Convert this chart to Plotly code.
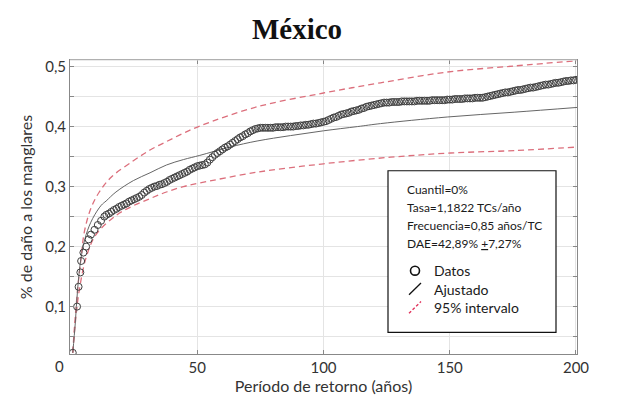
import plotly.graph_objects as go

# ---------------- data ----------------
datos_x_inicio = [0.7, 2.4, 3.0, 3.7, 4.0, 4.9, 6.0, 7.0, 7.9, 9.3, 10.6, 11.9, 13.2]
datos_y_inicio = [0.023, 0.100, 0.133, 0.157, 0.176, 0.190, 0.200, 0.212, 0.220, 0.228, 0.236, 0.243, 0.250]

# band of dense circles, read once per year of return period (14 .. 200) plus the last one
datos_x_banda = list(range(14, 201)) + [201.3]
datos_y_banda = [
    0.253, 0.255, 0.258, 0.261, 0.263, 0.266, 0.268, 0.270, 0.272, 0.275,
    0.277, 0.279, 0.281, 0.283, 0.286, 0.290, 0.293, 0.296, 0.298, 0.300,
    0.301, 0.303, 0.304, 0.306, 0.308, 0.311, 0.313, 0.315, 0.317, 0.319,
    0.321, 0.323, 0.325, 0.328, 0.330, 0.332, 0.334, 0.335, 0.336, 0.337,
    0.340, 0.345, 0.349, 0.353, 0.356, 0.359, 0.362, 0.365, 0.367, 0.370,
    0.373, 0.376, 0.379, 0.382, 0.384, 0.387, 0.389, 0.392, 0.394, 0.396,
    0.397, 0.398, 0.398, 0.398, 0.398, 0.398, 0.398, 0.399, 0.399, 0.399,
    0.399, 0.400, 0.400, 0.400, 0.400, 0.401, 0.401, 0.402, 0.402, 0.403,
    0.403, 0.404, 0.405, 0.405, 0.406, 0.407, 0.408, 0.409, 0.411, 0.413,
    0.415, 0.416, 0.418, 0.420, 0.421, 0.422, 0.423, 0.425, 0.426, 0.427,
    0.428, 0.430, 0.431, 0.433, 0.434, 0.435, 0.436, 0.437, 0.438, 0.439,
    0.440, 0.440, 0.440, 0.441, 0.441, 0.441, 0.441, 0.442, 0.442, 0.442,
    0.442, 0.442, 0.442, 0.443, 0.443, 0.443, 0.443, 0.443, 0.443, 0.444,
    0.444, 0.444, 0.444, 0.444, 0.444, 0.445, 0.445, 0.445, 0.446, 0.446,
    0.446, 0.446, 0.447, 0.447, 0.447, 0.447, 0.448, 0.448, 0.448, 0.448,
    0.449, 0.450, 0.451, 0.452, 0.453, 0.454, 0.455, 0.456, 0.457, 0.457,
    0.458, 0.459, 0.460, 0.461, 0.461, 0.462, 0.463, 0.464, 0.465, 0.465,
    0.466, 0.467, 0.468, 0.469, 0.470, 0.470, 0.471, 0.472, 0.473, 0.473,
    0.474, 0.475, 0.476, 0.476, 0.477, 0.477, 0.478,
    0.479]

ajuste_x = [0.7, 1.7, 2.6, 4.0, 6.0, 8.6, 12, 13.9, 17.8, 24.7, 31.3, 37.8, 44.5, 51,
            63, 73.7, 86.9, 100, 113.4, 122.6, 149, 175.5, 200.6]
ajuste_y = [0.023, 0.073, 0.128, 0.182, 0.220, 0.247, 0.269, 0.276, 0.291, 0.310, 0.323, 0.336,
            0.345, 0.352, 0.366, 0.376, 0.385, 0.393, 0.400, 0.405, 0.416, 0.424, 0.432]

sup_x = [0.7, 1.3, 2.6, 4.0, 5.3, 7.9, 11.2, 16, 24.7, 31.3, 37.8, 44.5, 51,
         73.7, 100, 122.6, 149.1, 175.5, 200.8]
sup_y = [0.023, 0.062, 0.128, 0.182, 0.225, 0.264, 0.291, 0.316, 0.343, 0.361, 0.375, 0.389,
         0.401, 0.433, 0.456, 0.473, 0.491, 0.501, 0.510]

inf_x = [0.7, 2.0, 3.3, 6.0, 9.9, 17.9, 24.6, 31.3, 37.8, 44.5, 51, 73.7, 100,
         126.6, 150.4, 175.5, 200.8]
inf_y = [0.023, 0.085, 0.128, 0.182, 0.220, 0.252, 0.268, 0.280, 0.291, 0.300, 0.306, 0.324,
         0.338, 0.349, 0.356, 0.360, 0.366]

x_ticks = [50, 100, 150, 200]
x_tick_text = ["50", "100", "150", "200"]
y_ticks = [0.1, 0.2, 0.3, 0.4, 0.5]
y_tick_text = ["0,1", "0,2", "0,3", "0,4", "0,5"]
origin_label = "0"

titulo = "México"
stats_lines = ["Cuantil=0%", "Tasa=1,1822 TCs/año", "Frecuencia=0,85 años/TC",
               "DAE=42,89% <u>+</u>7,27%"]
legend_labels = ["Datos", "Ajustado", "95% intervalo"]

# ---------------- figure ----------------
W, H = 629, 401
ML, MR, MT, MB = 70, 52, 60, 41
PW, PH = W - ML - MR, H - MT - MB

def px(xp):
    return (xp - ML) / PW

def py(yp):
    return (H - MB - yp) / PH

red = "#dc6f7c"
fig = go.Figure()
fig.add_trace(go.Scatter(x=sup_x, y=sup_y, mode="lines", line=dict(color=red, width=1.3, dash="6px,4px"),
                         line_shape="spline", hoverinfo="skip"))
fig.add_trace(go.Scatter(x=inf_x, y=inf_y, mode="lines", line=dict(color=red, width=1.3, dash="6px,4px"),
                         line_shape="spline", hoverinfo="skip"))
fig.add_trace(go.Scatter(x=ajuste_x, y=ajuste_y, mode="lines", line=dict(color="#666666", width=1),
                         line_shape="spline"))
fig.add_trace(go.Scatter(x=datos_x_inicio + datos_x_banda, y=datos_y_inicio + datos_y_banda, mode="markers",
                         marker=dict(symbol="circle-open", size=7, color="#404040", line=dict(width=1))))

font_main = "Lato, 'Open Sans', sans-serif"
grid_c = "#e4e4e4"

fig.update_layout(
    width=W, height=H,
    margin=dict(l=ML, r=MR, t=MT, b=MB),
    paper_bgcolor="white", plot_bgcolor="white",
    showlegend=False,
    font=dict(family=font_main, color="#333333", size=15),
    title=dict(text="<b>" + titulo + "</b>", x=297 / W, xref="container", xanchor="center",
               y=1 - 29 / H, yref="container", yanchor="middle",
               font=dict(family="'Liberation Serif', 'DejaVu Serif', serif", size=29, color="#111111")),
    xaxis=dict(range=[-0.4, 200.4], tickvals=x_ticks, ticktext=x_tick_text,
               ticks="inside", ticklen=4, tickcolor="#888888",
               showline=True, linecolor="#888888", linewidth=1, mirror="ticks",
               showgrid=True, gridcolor=grid_c, gridwidth=1, zeroline=False,
               tickfont=dict(size=15, color="#333333"),
               title=dict(text="Período de retorno (años)", standoff=2,
                          font=dict(size=16, color="#333333"))),
    yaxis=dict(range=[0.021, 0.511], tickvals=y_ticks, ticktext=y_tick_text,
               ticks="inside", ticklen=4, tickcolor="#888888",
               showline=True, linecolor="#888888", linewidth=1, mirror="ticks",
               showgrid=True, gridcolor=grid_c, gridwidth=1, zeroline=False,
               minor=dict(tick0=0, dtick=0.05, ticks="inside", ticklen=4, tickcolor="#888888",
                          showgrid=True, gridcolor=grid_c, gridwidth=1),
               tickfont=dict(size=15, color="#333333"),
               title=dict(text="% de daño a los manglares", standoff=8,
                          font=dict(size=16, color="#333333"))),
)

# light top border like the reference
fig.add_shape(type="line", xref="paper", yref="paper", x0=0, x1=1, y0=1, y1=1,
              line=dict(color="#d8d8d8", width=1))

# origin label
fig.add_annotation(text=origin_label, xref="paper", yref="paper", x=px(59), y=0,
                   xanchor="center", yanchor="top", yshift=-1, showarrow=False,
                   font=dict(size=15, color="#333333"))

# legend box
fig.add_shape(type="rect", xref="paper", yref="paper", x0=px(388), x1=px(556), y0=py(338), y1=py(173),
              line=dict(color="#111111", width=1.2), fillcolor="white", layer="above")
for txt, yc in zip(stats_lines, [192, 210, 229, 247]):
    fig.add_annotation(text=txt, xref="paper", yref="paper", x=px(405), y=py(yc),
                       xanchor="left", yanchor="middle", showarrow=False,
                       font=dict(size=12, color="#1a1a1a"))
for txt, yc in zip(legend_labels, [275, 294, 313]):
    fig.add_annotation(text=txt, xref="paper", yref="paper", x=px(432), y=py(yc),
                       xanchor="left", yanchor="middle", showarrow=False,
                       font=dict(size=14, color="#1a1a1a"))
# legend symbols
fig.add_shape(type="circle", xref="paper", yref="paper", x0=px(410.5), x1=px(419.5), y0=py(279.5), y1=py(270.5),
              line=dict(color="#111111", width=1.6))
fig.add_shape(type="line", xref="paper", yref="paper", x0=px(409), x1=px(421), y0=py(299.5), y1=py(287.5),
              line=dict(color="#111111", width=1.3))
fig.add_shape(type="line", xref="paper", yref="paper", x0=px(409), x1=px(421), y0=py(318.5), y1=py(306.5),
              line=dict(color="#e0305a", width=1.3, dash="3px,2px"))

fig.write_html("out.html", config={"displayModeBar": False},
               post_script="document.body.style.margin='0';document.body.style.overflow='hidden';")
